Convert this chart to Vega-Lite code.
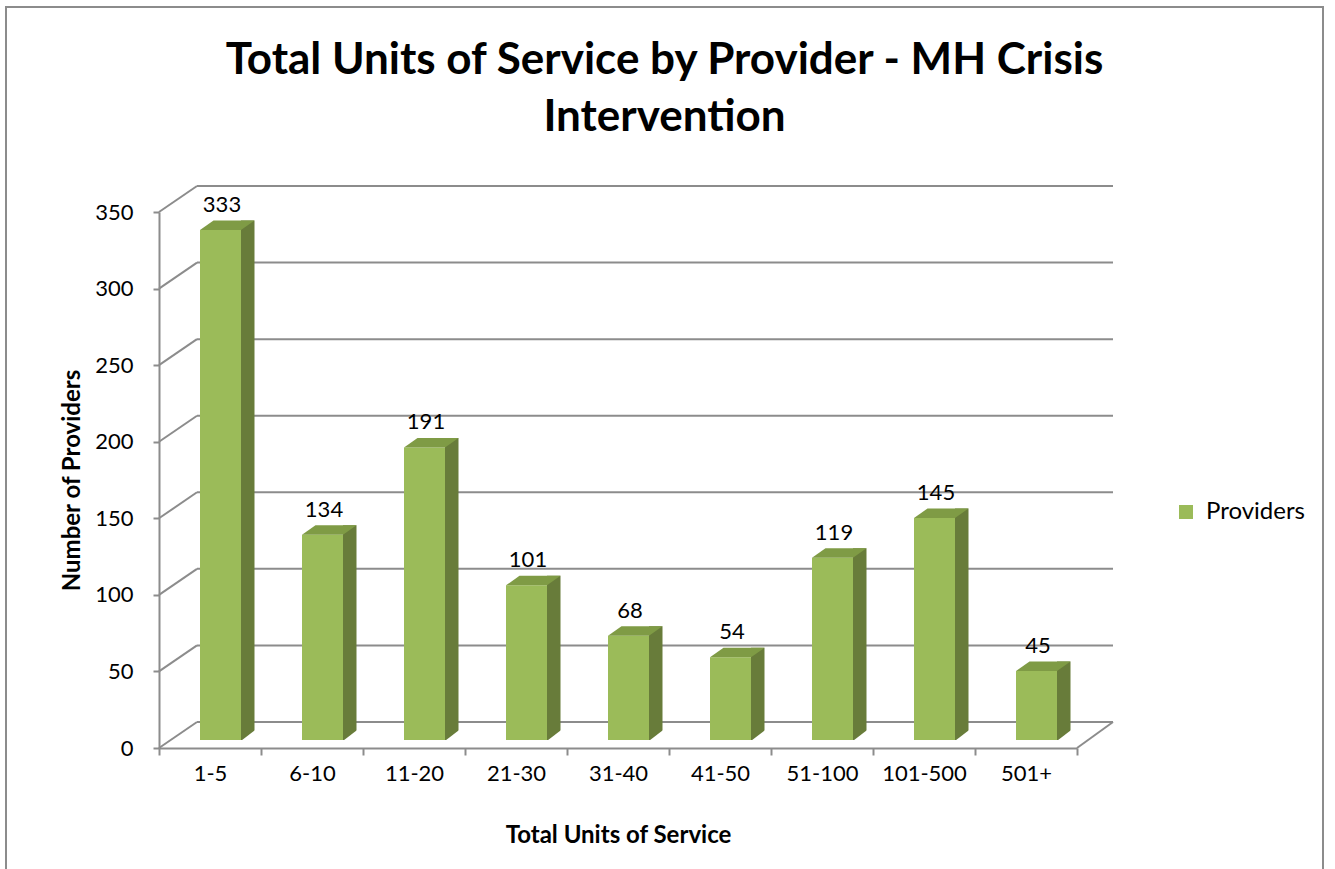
{
  "$schema": "https://vega.github.io/schema/vega-lite/v6.json",
  "autosize": {"type": "none"},
  "padding": {"left": 6, "top": 7, "right": 12, "bottom": 0},
  "width": 1317,
  "height": 862,
  "background": "white",
  "config": {
    "view": {"stroke": "#8c8c8c", "strokeWidth": 2, "strokeDash": [2179, 1317, 900]},
    "font": "Lato"
  },
  "title": {
    "text": ["Total Units of Service by Provider - MH Crisis", "Intervention"],
    "anchor": "middle",
    "frame": "group",
    "font": "Lato",
    "fontSize": 44,
    "fontWeight": "bold",
    "color": "black",
    "lineHeight": 57,
    "baseline": "top",
    "offset": 0,
    "dy": 133
  },
  "datasets": {
    "providers": [
      {"cat": "1-5", "n": 333},
      {"cat": "6-10", "n": 134},
      {"cat": "11-20", "n": 191},
      {"cat": "21-30", "n": 101},
      {"cat": "31-40", "n": 68},
      {"cat": "41-50", "n": 54},
      {"cat": "51-100", "n": 119},
      {"cat": "101-500", "n": 145},
      {"cat": "501+", "n": 45}
    ],
    "grid": [
      {"v": 0}, {"v": 50}, {"v": 100}, {"v": 150}, {"v": 200}, {"v": 250}, {"v": 300}, {"v": 350}
    ]
  },
  "data": {"name": "providers"},
  "layer": [
    {
      "data": {"name": "grid"},
      "mark": {"type": "rule", "color": "#8c8c8c", "strokeWidth": 2, "xOffset": -13, "x2Offset": 87, "yOffset": -26},
      "encoding": {
        "x": {"datum": "1-5", "type": "nominal", "title": "Total Units of Service",
              "scale": {"domain": ["1-5","6-10","11-20","21-30","31-40","41-50","51-100","101-500","501+"], "range": [153, 1071], "paddingInner": 0, "paddingOuter": 0}},
        "x2": {"datum": "501+"},
        "y": {"field": "v", "type": "quantitative", "title": "Number of Providers",
              "scale": {"domain": [0, 350], "range": [741, 205], "nice": false, "zero": true}}
      }
    },
    {
      "data": {"name": "grid"},
      "mark": {"type": "rule", "color": "#8c8c8c", "strokeWidth": 2, "xOffset": -51, "x2Offset": -13, "y2Offset": -26},
      "encoding": {
        "x": {"datum": "1-5", "type": "nominal", "title": "Total Units of Service"},
        "x2": {"datum": "1-5"},
        "y": {"field": "v", "type": "quantitative", "title": "Number of Providers"},
        "y2": {"field": "v"}
      }
    },
    {
      "data": {"values": [{}]},
      "mark": {"type": "rule", "color": "#8c8c8c", "strokeWidth": 2, "xOffset": 51, "x2Offset": 87, "y2Offset": -26},
      "encoding": {
        "x": {"datum": "501+", "type": "nominal", "title": "Total Units of Service"},
        "x2": {"datum": "501+"},
        "y": {"datum": 0, "type": "quantitative", "title": "Number of Providers"},
        "y2": {"datum": 0}
      }
    },
    {
      "mark": {"type": "bar", "color": "#687C3A", "width": 13.5, "xOffset": 37.75, "yOffset": -17.5, "y2Offset": -8},
      "encoding": {
        "x": {"field": "cat", "type": "nominal", "title": "Total Units of Service"},
        "y": {"field": "n", "type": "quantitative", "title": "Number of Providers"},
        "y2": {"datum": 0}
      }
    },
    {
      "mark": {"type": "point", "shape": "M31.5,-7.5 L45.5,-18.2 L45.5,-7.5 Z", "size": 4, "filled": true, "color": "white", "opacity": 1, "strokeWidth": 0},
      "encoding": {
        "x": {"field": "cat", "type": "nominal", "title": "Total Units of Service"},
        "y": {"datum": 0, "type": "quantitative", "title": "Number of Providers"}
      }
    },
    {
      "mark": {"type": "bar", "width": 41, "xOffset": 10.5, "yOffset": -8, "y2Offset": -8},
      "encoding": {
        "x": {"field": "cat", "type": "nominal", "title": "Total Units of Service",
              "axis": {"offset": -121, "tickBand": "extent", "grid": false,
                       "domainColor": "#8c8c8c", "domainWidth": 2, "tickColor": "#8c8c8c", "tickWidth": 2, "tickSize": 7,
                       "labelFont": "Lato", "labelFontSize": 22, "labelColor": "black", "labelPadding": 18, "labelAngle": 0,
                       "labelAlign": "center", "labelFlush": false,
                       "titleFont": "Lato", "titleFontSize": 24, "titleFontWeight": "bold", "titleColor": "black",
                       "titleY": 94, "titleBaseline": "alphabetic"}},
        "y": {"field": "n", "type": "quantitative", "title": "Number of Providers",
              "axis": {"offset": -153, "tickCount": 8, "grid": false,
                       "domainColor": "#8c8c8c", "domainWidth": 2, "tickColor": "#8c8c8c", "tickWidth": 2, "tickSize": 6,
                       "labelFont": "Lato", "labelFontSize": 22, "labelColor": "black", "labelPadding": 20,
                       "titleFont": "Lato", "titleFontSize": 24, "titleFontWeight": "bold", "titleColor": "black",
                       "titleX": -87, "titleBaseline": "middle"}},
        "y2": {"datum": 0},
        "color": {"datum": "Providers", "type": "nominal",
                  "scale": {"range": ["#9BBB59"]},
                  "legend": {"title": null, "orient": "none", "legendX": 1168, "legendY": 493,
                             "symbolType": "square", "symbolSize": 196, "symbolStrokeWidth": 0,
                             "labelFont": "Lato", "labelFontSize": 24, "labelColor": "black", "labelOffset": 8}}
      }
    },
    {
      "mark": {"type": "point", "shape": "M-10,-8 L31,-8 L44.5,-17.5 L3.5,-17.5 Z", "size": 4, "filled": true, "color": "#7F9B45", "opacity": 1, "strokeWidth": 0},
      "encoding": {
        "x": {"field": "cat", "type": "nominal", "title": "Total Units of Service"},
        "y": {"field": "n", "type": "quantitative", "title": "Number of Providers"}
      }
    },
    {
      "mark": {"type": "text", "dx": 12, "dy": -26, "baseline": "alphabetic", "align": "center", "font": "Lato", "fontSize": 22, "color": "black"},
      "encoding": {
        "x": {"field": "cat", "type": "nominal", "title": "Total Units of Service"},
        "y": {"field": "n", "type": "quantitative", "title": "Number of Providers"},
        "text": {"field": "n", "type": "quantitative"}
      }
    }
  ]
}
